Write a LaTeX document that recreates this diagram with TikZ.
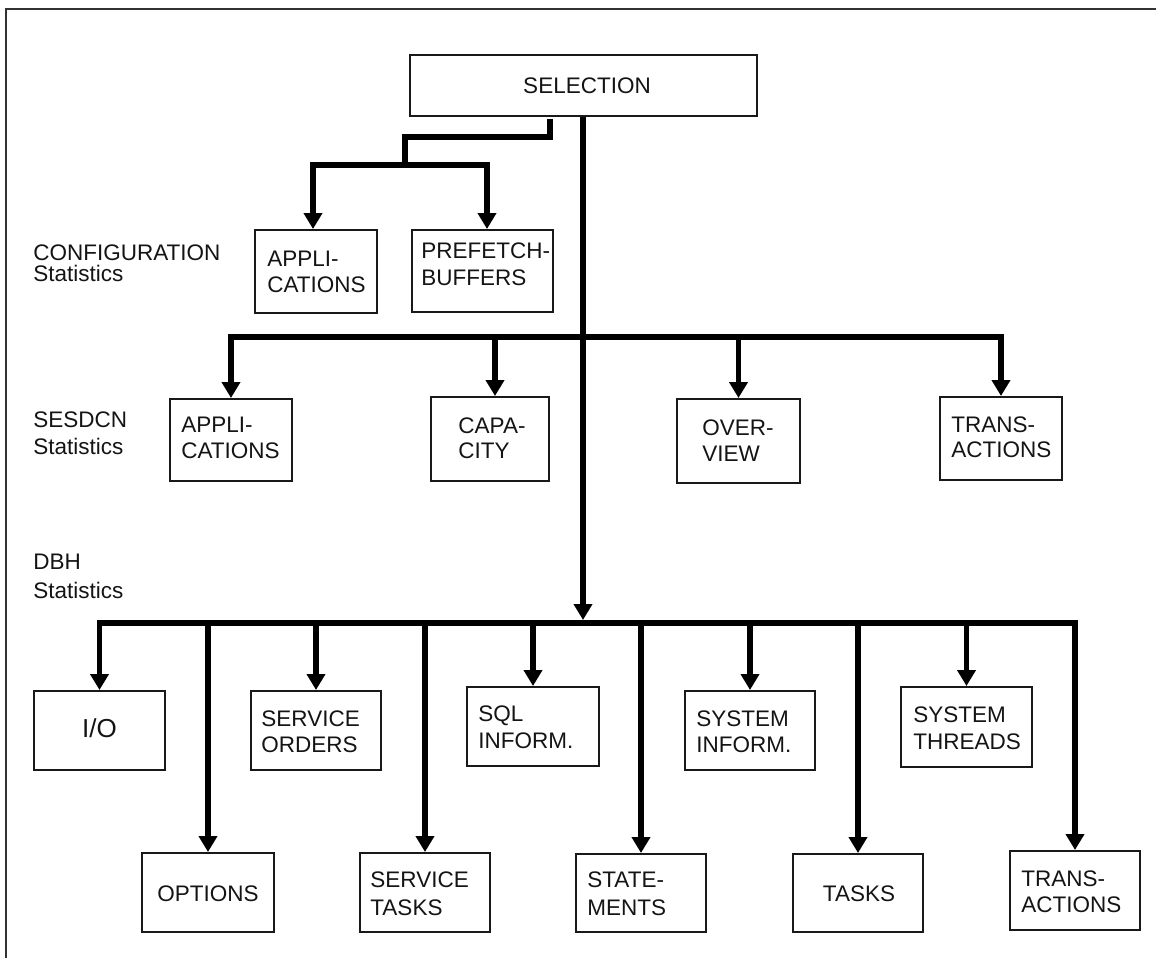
\documentclass[tikz,border=0pt]{standalone}
\usepackage{fontspec}
\setmainfont{Liberation Sans}
\usetikzlibrary{arrows.meta,fit}
\newcommand\twol[3][13.5pt]{\begin{tabular}[t]{@{}l@{}}#2\\[\dimexpr#1-13.5pt\relax]#3\end{tabular}}
\begin{document}
\begin{tikzpicture}[x=0.5pt,y=-0.5pt,
  every node/.style={font=\fontsize{11.25pt}{13.5pt}\selectfont, text=black!92, inner sep=0pt},
  box/.style={draw=black!90, line width=1pt, inner sep=0pt},
  lbl/.style={anchor=base west},
  ctr/.style={anchor=base},
  conn/.style={line width=2.9pt, line join=miter, draw=black},
  tip/.style={-{Triangle[length=8pt,width=9pt]}},
  tipboth/.style={{Triangle[length=8pt,width=9pt]}-{Triangle[length=8pt,width=9pt]}}]
\useasboundingbox (0,0) rectangle (1156,958);
% frame (top and left edges only)
\draw[line width=1.1pt, black!80] (6,958) -- (6,9) -- (1156,9);

% row labels
\node[lbl] (cfgL) at (33,260) {\twol[10.75pt]{CONFIGURATION}{Statistics}};
\node[lbl] (sesL) at (33,427) {\twol{SESDCN}{Statistics}};
\node[lbl] (dbhL) at (33,569) {\twol[14.5pt]{DBH}{Statistics}};

% selection
\node[box, fit={(410,55) (757,116)}] (sel) {};
\node[ctr] (selT) at (587,93) {SELECTION};

% configuration
\node[box, fit={(255,230) (377,313)}] (capp) {};
\node[lbl] (cappT) at (267,266) {\twol[13pt]{APPLI-}{CATIONS}};
\node[box, fit={(412,230) (553,312)}] (cpre) {};
\node[lbl] (cpreT) at (421,258) {\twol{PREFETCH-}{BUFFERS}};

% sesdcn
\node[box, fit={(170,399) (292,481)}] (sapp) {};
\node[lbl] (sappT) at (181,432) {\twol[13pt]{APPLI-}{CATIONS}};
\node[box, fit={(431,397) (549,481)}] (scap) {};
\node[lbl] (scapT) at (458,433) {\twol[12.5pt]{CAPA-}{CITY}};
\node[box, fit={(677,399) (800,483)}] (sovr) {};
\node[lbl] (sovrT) at (702,435) {\twol[13pt]{OVER-}{VIEW}};
\node[box, fit={(940,397) (1062,480)}] (strn) {};
\node[lbl] (strnT) at (951,432) {\twol[12.5pt]{TRANS-}{ACTIONS}};

% dbh
\node[box, fit={(34,691) (165,770)}] (dio) {};
\node[ctr, font=\fontsize{13pt}{15pt}\selectfont] (dioT) at (99.5,737) {I/O};
\node[box, fit={(142,853) (274,932)}] (dopt) {};
\node[ctr] (doptT) at (208,901) {OPTIONS};
\node[box, fit={(251,691) (381,770)}] (dsor) {};
\node[lbl] (dsorT) at (261,726) {\twol[13pt]{SERVICE}{ORDERS}};
\node[box, fit={(360,853) (490,932)}] (dstk) {};
\node[lbl] (dstkT) at (370,887) {\twol[14pt]{SERVICE}{TASKS}};
\node[box, fit={(467,687) (599,766)}] (dsql) {};
\node[lbl] (dsqlT) at (478,721) {\twol{SQL}{INFORM.}};
\node[box, fit={(576,854) (706,932)}] (dsta) {};
\node[lbl] (dstaT) at (587,887) {\twol[14pt]{STATE-}{MENTS}};
\node[box, fit={(685,691) (815,770)}] (dsin) {};
\node[lbl] (dsinT) at (696,726) {\twol[13pt]{SYSTEM}{INFORM.}};
\node[box, fit={(793,854) (923,932)}] (dtsk) {};
\node[ctr] (dtskT) at (859,901) {TASKS};
\node[box, fit={(901,687) (1032,767)}] (dsth) {};
\node[lbl] (dsthT) at (913,722) {\twol{SYSTEM}{THREADS}};
\node[box, fit={(1010,851) (1140,930)}] (dtrn) {};
\node[lbl] (dtrnT) at (1021,886) {\twol[13pt]{TRANS-}{ACTIONS}};

% coordinates of junctions
\coordinate (b00) at (550,119);
\coordinate (b0) at (550,137);
\coordinate (b1) at (405,137);
\coordinate (b2) at (405,165);
\coordinate (bl) at (313,165);
\coordinate (br) at (487,165);
\coordinate (sbar) at (583,337);
\coordinate (sc) at (495,337);
\coordinate (dbar) at (583,623);
\coordinate (dtop) at (583,620);

% connectors
\draw[conn] (b00) -- (b0) -- (b1) -- (b2);
\draw[conn, tipboth] (bl |- capp.north) -- (bl) -- (br) -- (br |- cpre.north);
\draw[conn, tip] (sel.south -| dtop) -- (dtop);
\draw[conn, tipboth] (sapp.north) |- (strn.north |- sbar) -- (strn.north);
\draw[conn, tip] (sc) -- (sc |- scap.north);
\draw[conn, tip] (sovr.north |- sbar) -- (sovr.north);
\draw[conn, tipboth] (dio.north) |- (dtrn.north |- dbar) -- (dtrn.north);
\foreach \n in {dopt,dsor,dstk,dsql,dsta,dsin,dtsk,dsth}
  \draw[conn, tip] (\n.north |- dbar) -- (\n.north);
\end{tikzpicture}
\end{document}
